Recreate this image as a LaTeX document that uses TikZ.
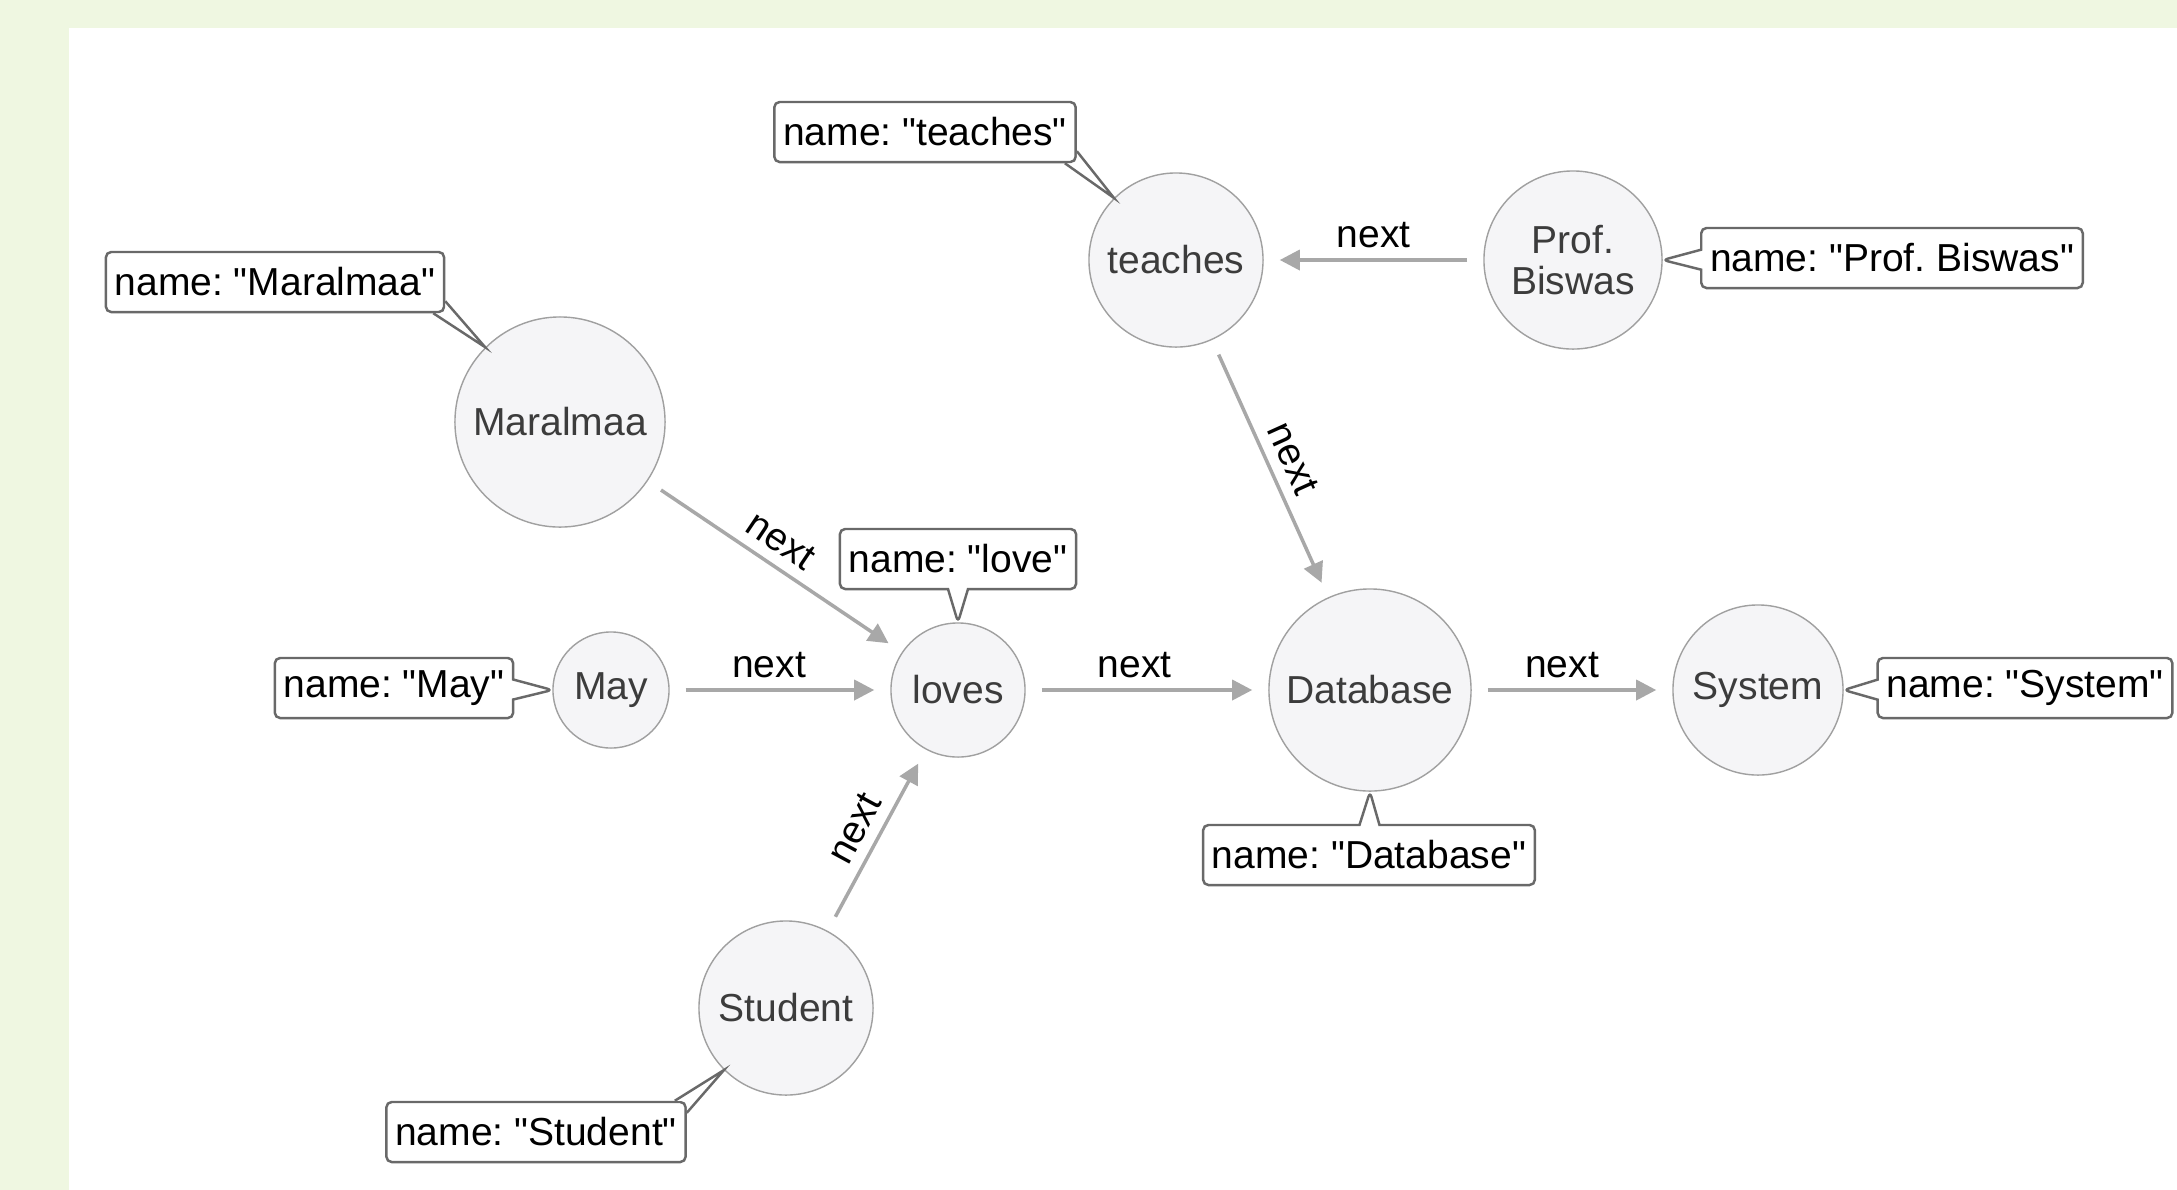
\documentclass[tikz,border=0pt]{standalone}
\usepackage{fontspec}
\newfontfamily\diagfont{Liberation Sans}
\usetikzlibrary{arrows.meta,shapes.callouts}
\definecolor{pagegreen}{RGB}{239,247,225}
\definecolor{nodefill}{RGB}{245,245,247}
\definecolor{nodeline}{RGB}{160,160,160}
\definecolor{edgegray}{RGB}{168,168,168}
\definecolor{textgray}{RGB}{60,60,60}
\definecolor{tagline}{RGB}{105,105,105}
\frenchspacing

\begin{document}
\begin{tikzpicture}[x=0.01cm, y=-0.01cm,
    font=\diagfont\fontsize{11.1}{11.6}\selectfont,
    word/.style={circle, draw=nodeline, fill=nodefill, line width=0.4pt, text=textgray, inner sep=0pt, align=center},
    tagbox/.style={rectangle, draw=tagline, fill=white, line width=0.7pt, rounded corners=1.5pt,
        minimum height=0.6cm, inner xsep=2.5pt},
    tag/.style={tagbox, rectangle callout, callout pointer width=0.2cm},
    wedge/.style={draw=tagline, line width=0.7pt},
    rel/.style={draw=edgegray, line width=1pt, -{Triangle[length=0.2cm,width=0.2cm]},
        shorten >=0.16cm, shorten <=0.16cm},
    lbl/.style={text=black, inner sep=3pt}]
    \fill[pagegreen] (0,0) rectangle (2177,1190);
    \fill[white] (69,28) rectangle (2177,1190);

    \node[word, minimum size=1.74cm] (teaches) at (1176,260) {teaches};
    \node[word, minimum size=1.78cm] (prof) at (1573,260) {Prof.\\Biswas};
    \node[word, minimum size=2.1cm] (maralmaa) at (560,422) {Maralmaa};
    \node[word, minimum size=1.16cm] (may) at (611,690) {May};
    \node[word, minimum size=1.34cm] (loves) at (958,690) {loves};
    \node[word, minimum size=2.02cm] (database) at (1370,690) {Database};
    \node[word, minimum size=1.7cm] (system) at (1758,690) {System};
    \node[word, minimum size=1.74cm] (student) at (786,1008) {Student};

    \node[tagbox] (teachestag) at (925,132) {name: "teaches"};
    \node[tagbox] (maralmaatag) at (275,282) {name: "Maralmaa"};
    \node[tagbox] (studenttag) at (536,1132) {name: "Student"};
    \node[tag, callout absolute pointer={(prof.east)}] (proftag) at (1892,258) {name: "Prof. Biswas"};
    \node[tag, callout absolute pointer={(loves.north)}] (lovestag) at (958,559) {name: "love"};
    \node[tag, callout absolute pointer={(may.west)}] (maytag) at (394,688) {name: "May"};
    \node[tag, callout absolute pointer={(system.east)}] (systemtag) at (2025,688) {name: "System"};
    \node[tag, callout absolute pointer={(database.south)}] (databasetag) at (1369,855) {name: "Database"};

    \fill[white] ([xshift=-0.12cm]teachestag.south east) -- (teaches.135) -- ([yshift=0.12cm]teachestag.south east) -- (teachestag.south east) -- cycle;
    \draw[wedge] ([xshift=-0.12cm]teachestag.south east) -- (teaches.135) -- ([yshift=0.12cm]teachestag.south east);
    \fill[white] ([xshift=-0.12cm]maralmaatag.south east) -- (maralmaa.135) -- ([yshift=0.12cm]maralmaatag.south east) -- (maralmaatag.south east) -- cycle;
    \draw[wedge] ([xshift=-0.12cm]maralmaatag.south east) -- (maralmaa.135) -- ([yshift=0.12cm]maralmaatag.south east);
    \fill[white] ([xshift=-0.12cm]studenttag.north east) -- (student.225) -- ([yshift=-0.12cm]studenttag.north east) -- (studenttag.north east) -- cycle;
    \draw[wedge] ([xshift=-0.12cm]studenttag.north east) -- (student.225) -- ([yshift=-0.12cm]studenttag.north east);

    \draw[rel] (prof) -- node[lbl, above] {next} (teaches);
    \draw[rel] (teaches) -- node[lbl, sloped, above] {next} (database);
    \draw[rel] (maralmaa) -- node[lbl, sloped, above, pos=0.47] {next} (loves);
    \draw[rel] (may) -- node[lbl, above, pos=0.45] {next} (loves);
    \draw[rel] (loves) -- node[lbl, above, pos=0.45] {next} (database);
    \draw[rel] (database) -- node[lbl, above, pos=0.45] {next} (system);
    \draw[rel] (student) -- node[lbl, sloped, above] {next} (loves);
\end{tikzpicture}
\end{document}
